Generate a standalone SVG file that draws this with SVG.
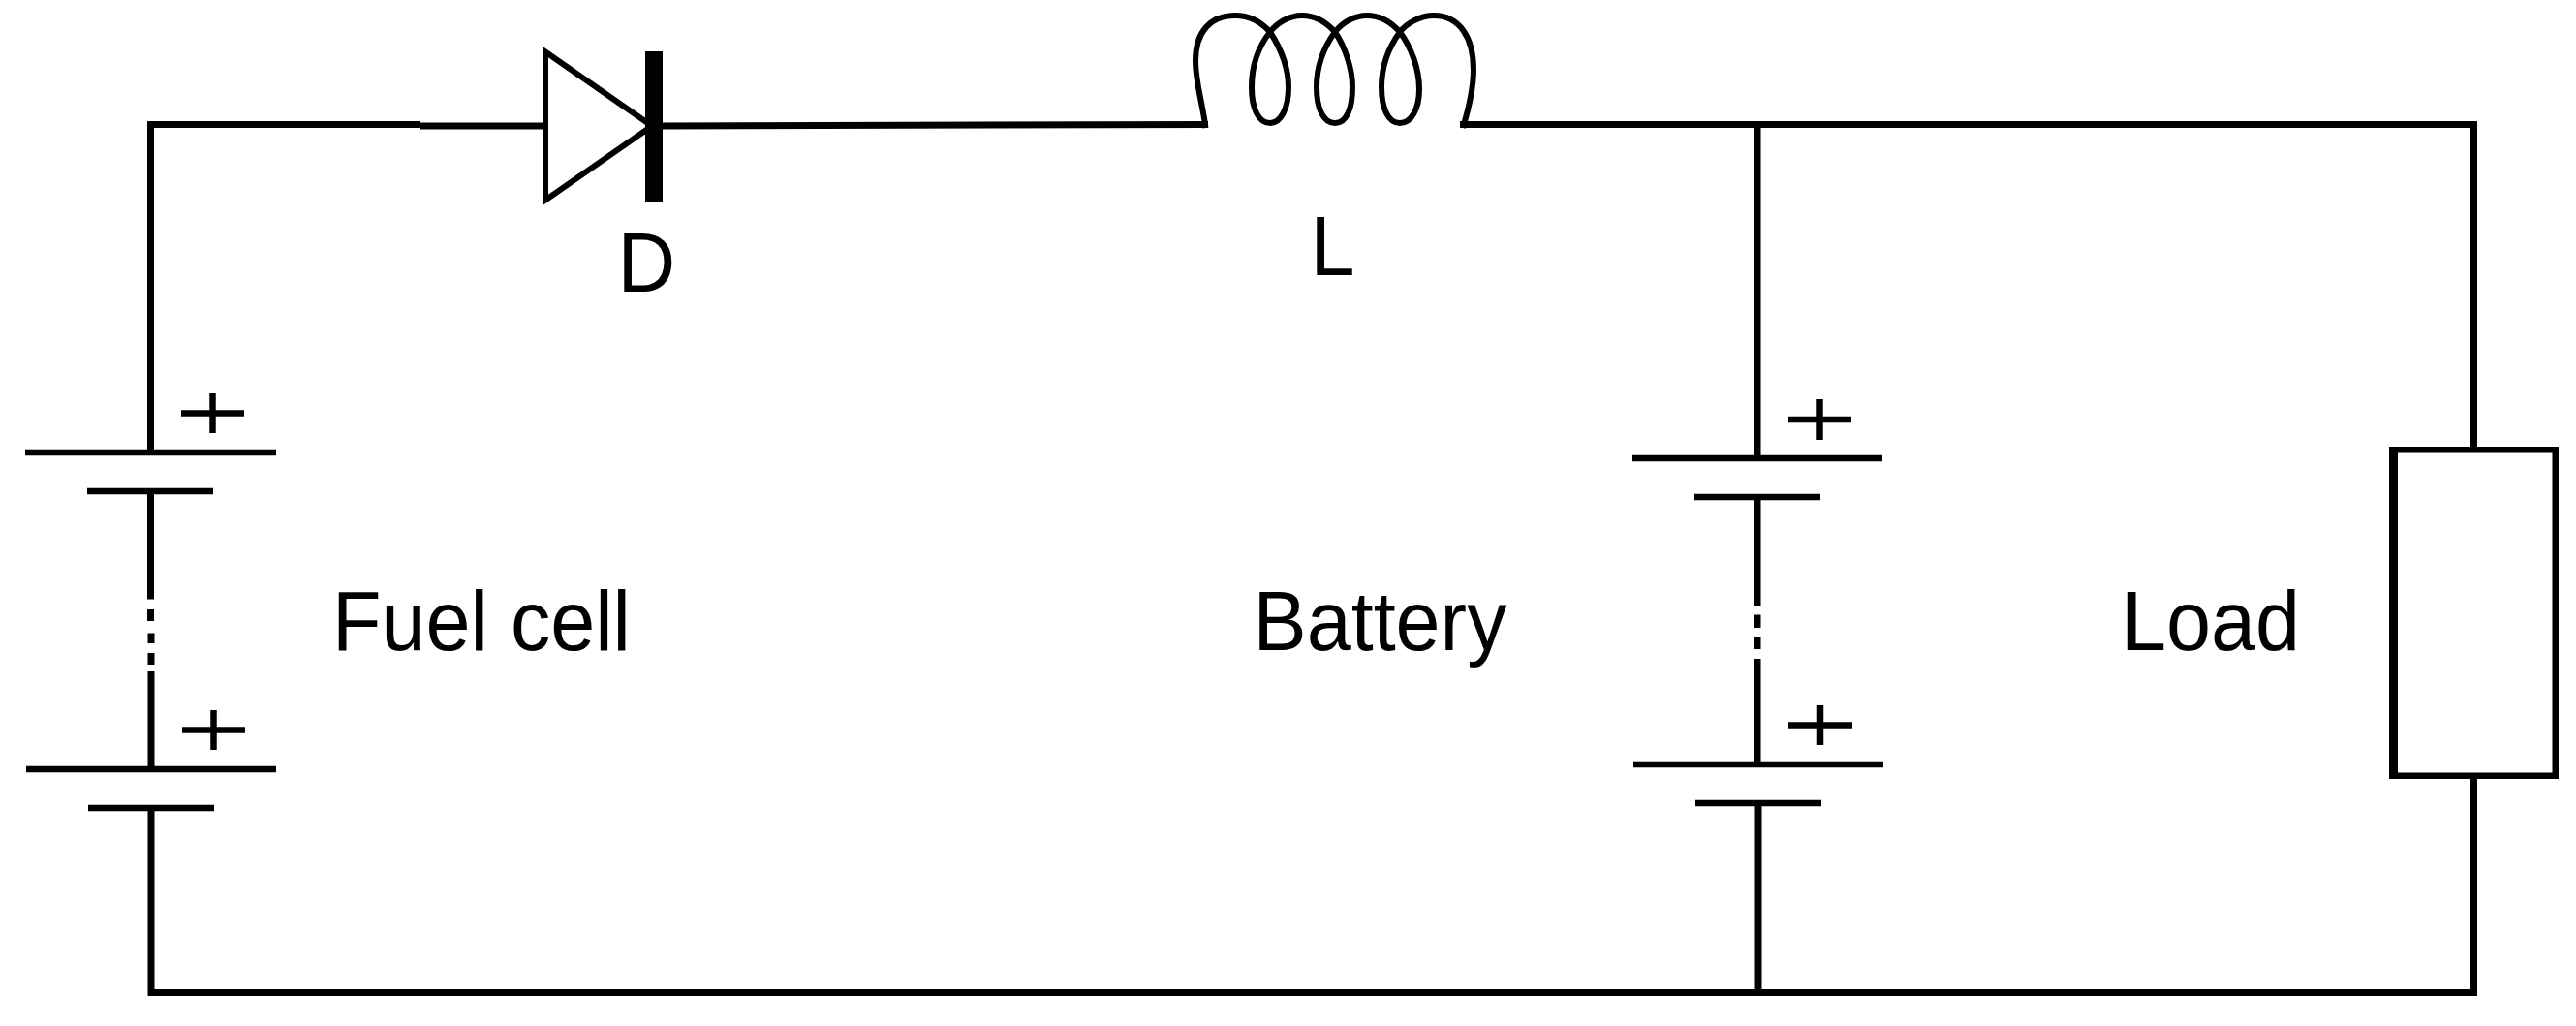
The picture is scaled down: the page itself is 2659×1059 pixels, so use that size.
<svg xmlns="http://www.w3.org/2000/svg" width="2659" height="1059" viewBox="0 0 2659 1059">
<style>
.w{fill:none;stroke:#000;stroke-width:7;stroke-linecap:butt;stroke-linejoin:miter}
.p{fill:none;stroke:#000;stroke-width:6.5}
.t{font-family:"Liberation Sans",Arial,sans-serif;font-size:87px;fill:#000}
</style>
<rect width="2659" height="1059" fill="#fff"/>
<g id="connectors">
<path class="w" d="M155.5,467V128.5H434"/>
<path class="w" d="M434,130H560"/>
<path class="w" d="M684,130L1247,128.5"/>
<path class="w" d="M1507,128.5H2553.5V461"/>
<path class="w" d="M1814,128.5V473"/>
<path class="w" d="M2553.5,804V1024.5H156V834"/>
<path class="w" d="M1815,829V1024"/>
</g>
<g id="diode-D">
<path d="M563,53.5L673,130L563,206.5Z" fill="none" stroke="#000" stroke-width="6" stroke-miterlimit="20"/>
<rect x="666" y="53" width="18" height="155"/>
<text class="t" x="637.500" y="301" textLength="59.700" lengthAdjust="spacingAndGlyphs">D</text>
</g>
<g id="inductor-L">
<path d="M1244.500,132C1241,105 1234,85 1234,63C1234,32 1250,16 1275,16C1290,16 1302,23 1311,33C1322,50 1330,70 1330,90C1330,112 1322,127 1311,127C1299,127 1292,112 1292,90C1292,68 1299,48 1311,33C1318,24 1330,16 1344,16C1358,16 1370,24 1378,33C1388,48 1396,70 1396,90C1396,112 1390,127 1378,127C1366,127 1359,112 1359,90C1359,68 1367,48 1378,33C1385,24 1397,16 1411,16C1425,16 1437,24 1445,33C1456,48 1465,70 1465,92C1465,112 1457,127 1445,127C1433,127 1426,112 1426,90C1426,68 1434,48 1445,33C1452,24 1466,16 1480,16C1506,16 1521,38 1521,72C1521,92 1516,112 1510,132" fill="none" stroke="#000" stroke-width="6"/>
<text class="t" x="1352.500" y="284" textLength="46" lengthAdjust="spacingAndGlyphs">L</text>
</g>
<g id="fuel-cell">
<path class="p" d="M26,467H285M90,507H220M187,426.500H252M219.500,406V447M188,753.500H253M220.500,733V774M27,794H285M91,834H221"/>
<path class="w" d="M155.500,507V618.500M155.500,629V641M156,653.500V664M156,674V686M156,693V794"/>
<text class="t" x="343" y="671" textLength="308" lengthAdjust="spacingAndGlyphs">Fuel cell</text>
</g>
<g id="battery">
<path class="p" d="M1685,473H1943M1749,513H1879M1846,433H1911M1878.500,412V454M1846,748.500H1912M1879,728V769M1686,789H1944M1750,829H1880"/>
<path class="w" d="M1814,513V625M1814,634.500V648M1814,658V670M1814,680V789"/>
<text class="t" x="1293.500" y="670.500" textLength="262" lengthAdjust="spacingAndGlyphs">Battery</text>
</g>
<g id="load">
<path fill-rule="evenodd" d="M2466,461H2641V804H2466ZM2475,467.500V797.500H2634.500V467.500Z"/>
<text class="t" x="2190" y="671" textLength="184" lengthAdjust="spacingAndGlyphs">Load</text>
</g>
</svg>
